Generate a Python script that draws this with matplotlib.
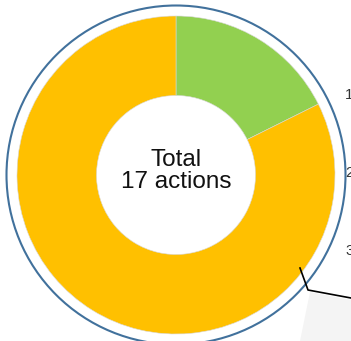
import numpy as np
import matplotlib.pyplot as plt
from matplotlib.patches import Circle, Polygon

labels = ['Done', 'Open']
values = [3, 14]
colors = ['#92D050', '#FFC000']
total_text = 'Total\n17 actions'
side_marks = ['1', '2', '3']

fig = plt.figure(figsize=(3.51, 3.41), dpi=100)
ax = fig.add_axes([0, 0, 1, 1])

# faint background shading
ax.add_patch(Polygon([[300, 341], [351, 341], [351, 300], [310, 292]], closed=True,
                     facecolor='#f4f4f4', edgecolor='none', zorder=0))

cx, cy, r = 176, 175, 159
# y axis is flipped below, so counterclock here reads clockwise on screen
ax.pie(values, colors=colors, startangle=-90, counterclock=True, radius=r, center=(cx, cy),
       wedgeprops=dict(width=r * 0.5, edgecolor='#d8d8d8', linewidth=0.4), frame=True)
ax.set_xlim(0, 351)
ax.set_ylim(341, 0)
ax.set_aspect('equal')
ax.axis('off')

ax.add_patch(Circle((cx, cy), 169.5, fill=False, edgecolor='#41719C', linewidth=1.5, zorder=5))

ax.text(cx, cy - 4, total_text, ha='center', va='center', fontsize=17.5,
        family='Liberation Sans', linespacing=1.05, color='#111111', zorder=6)

# connector line
ax.plot([300, 308, 351], [268, 290, 298], color='black', linewidth=1.2, zorder=6)

for i, m in enumerate(side_marks):
    ax.text(345, 95 + i * 78, m, ha='left', va='center', fontsize=11,
            family='Liberation Sans', color='#333333', zorder=6)

fig.savefig('out.png', dpi=100)
